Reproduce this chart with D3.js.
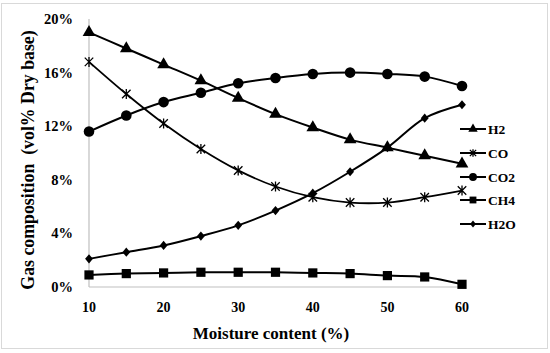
<!DOCTYPE html>
<html>
<head>
<meta charset="utf-8">
<script src="https://cdn.jsdelivr.net/npm/d3@7"></script>
<style>
  body { margin: 0; background: #fff; }
  svg { display: block; font-family: "Liberation Serif", "DejaVu Serif", serif; font-weight: bold; }
</style>
</head>
<body>
<svg id="chart" width="550" height="353"></svg>
<script>
const moisture = [10, 15, 20, 25, 30, 35, 40, 45, 50, 55, 60];
const h2  = [19.0, 17.8, 16.6, 15.4, 14.1, 12.9, 11.9, 11.0, 10.4, 9.8, 9.2];
const co  = [16.8, 14.4, 12.2, 10.3, 8.7, 7.5, 6.7, 6.3, 6.3, 6.7, 7.2];
const co2 = [11.6, 12.8, 13.8, 14.5, 15.2, 15.6, 15.9, 16.0, 15.9, 15.7, 15.0];
const ch4 = [0.9, 1.0, 1.05, 1.1, 1.1, 1.1, 1.05, 1.0, 0.85, 0.75, 0.2];
const h2o = [2.1, 2.6, 3.1, 3.8, 4.6, 5.7, 7.0, 8.6, 10.4, 12.6, 13.6];
const yTicks = [0, 4, 8, 12, 16, 20];
const xTicks = [10, 20, 30, 40, 50, 60];

const series = [
  {name: "H2", values: h2, marker: "triangle"},
  {name: "CO", values: co, marker: "star"},
  {name: "CO2", values: co2, marker: "circle"},
  {name: "CH4", values: ch4, marker: "square"},
  {name: "H2O", values: h2o, marker: "diamond"}
];

const svg = d3.select("#chart");

// light frame round the figure
svg.append("rect")
  .attr("x", 1.5).attr("y", 3.5).attr("width", 546).attr("height", 345)
  .attr("fill", "none").attr("stroke", "#d9d9d9").attr("stroke-width", 1);

const x = d3.scaleLinear().domain([10, 60]).range([89, 462]);
const y = d3.scaleLinear().domain([0, 20]).range([287, 19]);

// axis lines
svg.append("line").attr("x1", 89).attr("x2", 89).attr("y1", 19).attr("y2", 287)
  .attr("stroke", "#bfbfbf").attr("stroke-width", 1.2);
svg.append("line").attr("x1", 89).attr("x2", 462).attr("y1", 287).attr("y2", 287)
  .attr("stroke", "#bfbfbf").attr("stroke-width", 1.2);

// tick labels
svg.append("g").selectAll("text").data(yTicks).enter().append("text")
  .attr("x", 73).attr("y", d => y(d)).attr("dy", "0.35em")
  .attr("text-anchor", "end").attr("font-size", 14.5)
  .text(d => d + "%");

svg.append("g").selectAll("text").data(xTicks).enter().append("text")
  .attr("x", d => x(d)).attr("y", 307).attr("dy", "0.35em")
  .attr("text-anchor", "middle").attr("font-size", 14)
  .text(d => d);

// axis titles
svg.append("text").attr("x", 271).attr("y", 333).attr("dy", "0.35em")
  .attr("text-anchor", "middle").attr("font-size", 17)
  .text("Moisture content (%)");

svg.append("text")
  .attr("transform", "translate(28,160) rotate(-90)")
  .attr("dy", "0.35em").attr("text-anchor", "middle").attr("font-size", 17.8)
  .attr("xml:space", "preserve")
  .style("white-space", "pre")
  .text("Gas composition  (vol% Dry base)");

const line = d3.line()
  .x((d, i) => x(moisture[i]))
  .y(d => y(d))
  .curve(d3.curveCatmullRom.alpha(0.5));

function drawMarker(g, type, cx, cy, s) {
  if (type === "triangle") {
    g.append("path").attr("d", d3.symbol(d3.symbolTriangle, 70 * s)())
      .attr("transform", `translate(${cx},${cy})`).attr("fill", "#000");
  } else if (type === "circle") {
    g.append("circle").attr("cx", cx).attr("cy", cy).attr("r", 5.3 * Math.sqrt(s)).attr("fill", "#000");
  } else if (type === "square") {
    const h = 4.6 * Math.sqrt(s);
    g.append("rect").attr("x", cx - h).attr("y", cy - h).attr("width", 2 * h).attr("height", 2 * h).attr("fill", "#000");
  } else if (type === "diamond") {
    const h = 4.6 * Math.sqrt(s);
    g.append("path").attr("d", `M${cx},${cy - h}L${cx + h * 0.85},${cy}L${cx},${cy + h}L${cx - h * 0.85},${cy}Z`).attr("fill", "#000");
  } else if (type === "star") {
    // X with a vertical stroke through it
    const r = 5 * Math.sqrt(s);
    const p = d3.path();
    p.moveTo(cx, cy - r); p.lineTo(cx, cy + r);
    p.moveTo(cx - r * 0.85, cy - r * 0.85); p.lineTo(cx + r * 0.85, cy + r * 0.85);
    p.moveTo(cx - r * 0.85, cy + r * 0.85); p.lineTo(cx + r * 0.85, cy - r * 0.85);
    g.append("path").attr("d", p.toString()).attr("stroke", "#000").attr("stroke-width", 1.3).attr("fill", "none");
  }
}

series.forEach(s => {
  const g = svg.append("g");
  g.append("path").attr("d", line(s.values))
    .attr("fill", "none").attr("stroke", "#000")
    .attr("stroke-width", s.marker === "star" ? 1.8 : 2);
  s.values.forEach((v, i) => drawMarker(g, s.marker, x(moisture[i]), y(v), 1));
});

// legend
const legY = [129, 153, 177, 200, 224];
series.forEach((s, i) => {
  const g = svg.append("g");
  g.append("line").attr("x1", 460).attr("x2", 486).attr("y1", legY[i]).attr("y2", legY[i])
    .attr("stroke", "#000").attr("stroke-width", 2);
  drawMarker(g, s.marker, 473, legY[i], 0.55);
  g.append("text").attr("x", 488).attr("y", legY[i]).attr("dy", "0.35em")
    .attr("font-size", 13.5).text(s.name);
});
</script>
</body>
</html>
